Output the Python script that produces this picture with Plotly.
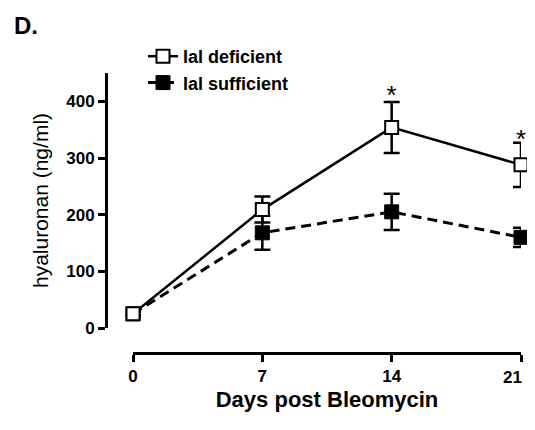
import plotly.graph_objects as go

days = [0, 7, 14, 21]
deficient = [25, 209, 354, 288]
deficient_err = [4, 23, 45, 39]
sufficient = [25, 168, 205, 160]
sufficient_err = [4, 30, 32, 17]
star_days = [14, 21]
star_y = [406, 330]
x_ticks = [0, 7, 14, 21]
y_ticks = [0, 100, 200, 300, 400]

OFF = 8  # page body margin
W, H = 535 - 2 * OFF, 430 - 2 * OFF
ml, mr, mt, mb = 92, 2, 52, 54
pw, ph = W - ml - mr, H - mt - mb

def px_x(p):
    return (p - OFF - ml) / pw

def px_y(p):
    return (H - mb - (p - OFF)) / ph

fig = go.Figure()
fig.add_trace(go.Scatter(
    x=days, y=sufficient, name="Ial sufficient", mode="lines+markers",
    line=dict(color="black", width=3, dash="10px,6px"),
    marker=dict(symbol="square", size=14, color="black", line=dict(color="black", width=1)),
    error_y=dict(type="data", array=sufficient_err, color="black", thickness=2.5, width=8),
    cliponaxis=False,
))
fig.add_trace(go.Scatter(
    x=days, y=deficient, name="Ial deficient", mode="lines+markers",
    line=dict(color="black", width=2.5),
    marker=dict(symbol="square", size=13, color="white", line=dict(color="black", width=2)),
    error_y=dict(type="data", array=deficient_err, color="black", thickness=2.5, width=8),
    cliponaxis=False,
))
fig.add_trace(go.Scatter(
    x=star_days, y=star_y, mode="text", text=["*", "*"], showlegend=False,
    textfont=dict(family="Liberation Sans", size=26, color="black"),
    cliponaxis=False, hoverinfo="skip",
))

# last tick label is right-aligned at its tick (as in the reference) so it stays inside the page
tick_text = [str(v) for v in x_ticks[:-1]] + [""]

fig.update_layout(
    width=W, height=H,
    margin=dict(l=ml, r=mr, t=mt, b=mb),
    plot_bgcolor="white", paper_bgcolor="white",
    font=dict(family="Liberation Sans", color="black"),
    legend=dict(
        x=px_x(143), y=px_y(38), xanchor="left", yanchor="top",
        traceorder="reversed",
        font=dict(family="Liberation Sans", size=18, color="black", weight="bold"),
        bgcolor="rgba(0,0,0,0)", itemwidth=30, tracegroupgap=0,
    ),
    xaxis=dict(
        domain=[px_x(133), px_x(521)], range=[0, 21],
        anchor="free", position=px_y(353), automargin=False,
        tickvals=x_ticks, ticktext=tick_text,
        showline=True, linecolor="black", linewidth=3,
        ticks="outside", ticklen=7, tickwidth=3, tickcolor="black",
        showgrid=False, zeroline=False,
        tickfont=dict(family="Liberation Sans", size=17, weight="bold"),
        title=dict(text="Days post Bleomycin", standoff=6,
                   font=dict(family="Liberation Sans", size=22, weight="bold")),
    ),
    yaxis=dict(
        domain=[px_y(328), px_y(73)], range=[0, 450],
        anchor="free", position=px_x(106), automargin=False,
        tickvals=y_ticks, ticktext=[str(v) for v in y_ticks],
        showline=True, linecolor="black", linewidth=3,
        ticks="outside", ticklen=7, tickwidth=3, tickcolor="black",
        showgrid=False, zeroline=False,
        tickfont=dict(family="Liberation Sans", size=17, weight="bold"),
        title=dict(text="hyaluronan (ng/ml)", standoff=10,
                   font=dict(family="Liberation Sans", size=21)),
    ),
    annotations=[
        dict(
            text="<b>D.</b>", x=px_x(12), y=px_y(26), xref="paper", yref="paper",
            xanchor="left", yanchor="middle", showarrow=False,
            font=dict(family="Liberation Sans", size=24, color="black"),
        ),
        dict(
            text=str(x_ticks[-1]), x=x_ticks[-1], y=px_y(377), xref="x", yref="paper",
            xanchor="right", yanchor="middle", xshift=3, showarrow=False,
            font=dict(family="Liberation Sans", size=17, color="black", weight="bold"),
        ),
    ],
)

fig.write_html("out.html")
